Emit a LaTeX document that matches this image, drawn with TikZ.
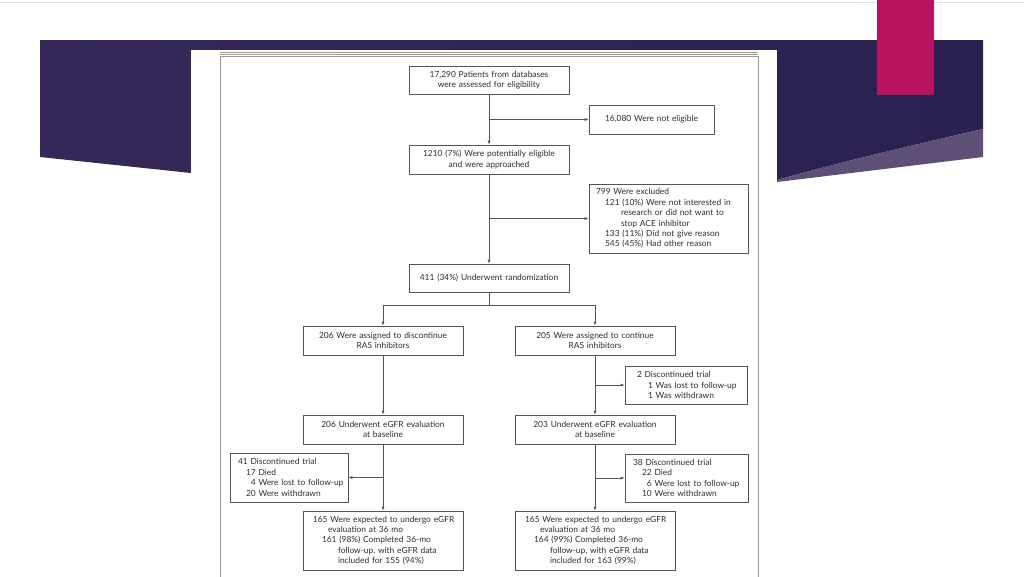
\documentclass[tikz,border=0pt]{standalone}
\usepackage{fontspec}
\setmainfont{Lato}
\usetikzlibrary{arrows.meta,calc}
\definecolor{lnc}{HTML}{555555}
\definecolor{txt}{HTML}{2E2E2E}
\definecolor{bnA}{HTML}{36295A}
\definecolor{bnB}{HTML}{55295E}
\definecolor{bnC}{HTML}{2A2150}
\definecolor{band}{HTML}{5E4F78}
\definecolor{pinkc}{HTML}{B8135E}
\definecolor{frm}{HTML}{9A9A9A}
\newcommand{\ml}[1]{\mbox{#1}}
\begin{document}
\begin{tikzpicture}[x=1pt,y=-1pt,
  bx/.style={draw=lnc, line width=0.6pt, rectangle, inner ysep=0pt, text=txt,
    font=\fontsize{8.4}{10.4}\selectfont},
  cbox/.style={bx, align=center, minimum height=28pt, inner xsep=0pt, text width=160pt},
  lbox/.style={bx, align=left},
  conn/.style={draw=lnc, line width=0.6pt},
  arr/.style={conn, -{Latex[length=4pt,width=3pt]}}]
\useasboundingbox (0,0) rectangle (1024,576);
\fill[white] (0,0) rectangle (1024,576);
\draw[gray!25, line width=0.8pt] (0,2) -- (1024,2);
% banner
\shade[left color=bnA, middle color=bnB, right color=bnC]
  (40,40) -- (983,40) -- (983,129) .. controls (900,148) and (830,165) .. (777,180)
  -- (191,180) -- (191,173) -- (40,157) -- cycle;
\fill[band] (983,129) .. controls (900,148) and (830,165) .. (777,180) -- (777,182) -- (983,157) -- cycle;
\fill[pinkc] (877,0) rectangle (934,95);
% figure image
\fill[white] (191,50) rectangle (777,576);
\draw[frm, line width=0.6pt] (220,52) -- (758,52);
\draw[frm, line width=0.6pt] (220,54) -- (758,54);
\draw[frm, line width=0.7pt] (220,577) -- (220,56) -- (758,56) -- (758,577);
% nodes
\node[cbox] (a) at (489,80) {17,290 Patients from databases\\were assessed for eligibility};
\node[cbox, text width=125pt, minimum height=29pt] (ne) at (651.5,119.5) {16,080 Were not eligible};
\node[cbox, minimum height=29pt] (b) at (489,159.5) {1210 (7\%) Were potentially eligible\\and were approached};
\node[lbox, text width=145pt, inner xsep=7pt, minimum height=69pt] (ex) at (668.5,218.5)
  {\ml{799 Were excluded}\\
   \ml{\hspace*{9pt}121 (10\%) Were not interested in}\\
   \ml{\hspace*{25pt}research or did not want to}\\
   \ml{\hspace*{25pt}stop ACE inhibitor}\\
   \ml{\hspace*{9pt}133 (11\%) Did not give reason}\\
   \ml{\hspace*{9pt}545 (45\%) Had other reason}};
\node[cbox] (c) at (489,278) {411 (34\%) Underwent randomization};
\coordinate (sp) at (489,305);
\node[cbox, minimum height=29pt] (l1) at (383,340.5) {206 Were assigned to discontinue\\RAS inhibitors};
\node[cbox, minimum height=29pt] (r1) at (595,340.5) {205 Were assigned to continue\\RAS inhibitors};
\node[lbox, text width=98pt, inner xsep=12pt, minimum height=38pt] (d2) at (686,385)
  {\ml{2 Discontinued trial}\\
   \ml{\hspace*{11pt}1 Was lost to follow-up}\\
   \ml{\hspace*{11pt}1 Was withdrawn}};
\node[cbox, minimum height=29pt] (l2) at (383,429.5) {206 Underwent eGFR evaluation\\at baseline};
\node[cbox, minimum height=29pt] (r2) at (595,429.5) {203 Underwent eGFR evaluation\\at baseline};
\node[lbox, text width=102pt, inner xsep=8pt, minimum height=49pt] (d41) at (289,477.5)
  {\ml{41 Discontinued trial}\\
   \ml{\hspace*{8pt}17 Died}\\
   \ml{\hspace*{8pt}\phantom{1}4 Were lost to follow-up}\\
   \ml{\hspace*{8pt}20 Were withdrawn}};
\node[lbox, text width=107pt, inner xsep=8pt, minimum height=48pt] (d38) at (686.5,478)
  {\ml{38 Discontinued trial}\\
   \ml{\hspace*{9pt}22 Died}\\
   \ml{\hspace*{9pt}\phantom{2}6 Were lost to follow-up}\\
   \ml{\hspace*{9pt}10 Were withdrawn}};
\node[lbox, text width=140pt, inner xsep=10pt, minimum height=59pt] (l3) at (383,540.5)
  {\ml{165 Were expected to undergo eGFR}\\
   \ml{\hspace*{15pt}evaluation at 36 mo}\\
   \ml{\hspace*{9pt}161 (98\%) Completed 36-mo}\\
   \ml{\hspace*{25pt}follow-up, with eGFR data}\\
   \ml{\hspace*{25pt}included for 155 (94\%)}};
\node[lbox, text width=140pt, inner xsep=10pt, minimum height=59pt] (r3) at (595,540.5)
  {\ml{165 Were expected to undergo eGFR}\\
   \ml{\hspace*{15pt}evaluation at 36 mo}\\
   \ml{\hspace*{9pt}164 (99\%) Completed 36-mo}\\
   \ml{\hspace*{25pt}follow-up, with eGFR data}\\
   \ml{\hspace*{25pt}included for 163 (99\%)}};
% connectors
\draw[arr] (a.south) -- (b.north);
\draw[arr] (a.south |- ne.west) -- (ne.west);
\draw[arr] (b.south) -- (c.north);
\draw[arr] (b.south |- ex.west) -- (ex.west);
\draw[conn] (c.south) -- (sp);
\draw[conn] (sp -| l1.north) -- (sp -| r1.north);
\draw[arr] (sp -| l1.north) -- (l1.north);
\draw[arr] (sp -| r1.north) -- (r1.north);
\draw[arr] (l1.south) -- (l2.north);
\draw[arr] (r1.south) -- (r2.north);
\draw[arr] (r1.south |- d2.west) -- (d2.west);
\draw[arr] (l2.south) -- (l3.north);
\draw[arr] (r2.south) -- (r3.north);
\draw[arr] (l2.south |- d41.east) -- (d41.east);
\draw[arr] (r2.south |- d38.west) -- (d38.west);
\end{tikzpicture}
\end{document}
